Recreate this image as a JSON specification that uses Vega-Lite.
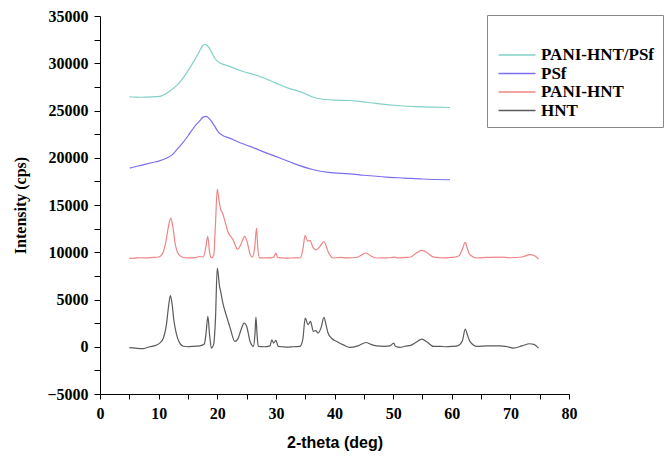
{
  "$schema": "https://vega.github.io/schema/vega-lite/v6.json",
  "width": 469,
  "height": 378,
  "autosize": "none",
  "padding": {"left": 100, "top": 16, "right": 101, "bottom": 64},
  "background": "white",
  "config": {"view": {"stroke": null}},
  "data": {"values": [
    {"s":"HNT","x":5.0,"y":-100},{"s":"HNT","x":6.0,"y":-150},{"s":"HNT","x":7.4,"y":-200},{"s":"HNT","x":8.5,"y":0},{"s":"HNT","x":9.5,"y":150},{"s":"HNT","x":10.2,"y":390},{"s":"HNT","x":10.8,"y":900},{"s":"HNT","x":11.3,"y":2200},{"s":"HNT","x":11.7,"y":4300},{"s":"HNT","x":12.0,"y":5400},{"s":"HNT","x":12.3,"y":4500},{"s":"HNT","x":12.6,"y":2800},{"s":"HNT","x":13.0,"y":1450},{"s":"HNT","x":13.5,"y":500},{"s":"HNT","x":14.2,"y":50},{"s":"HNT","x":15,"y":0},{"s":"HNT","x":16,"y":50},{"s":"HNT","x":17,"y":100},{"s":"HNT","x":17.8,"y":300},{"s":"HNT","x":18.1,"y":1500},{"s":"HNT","x":18.4,"y":3210},{"s":"HNT","x":18.7,"y":1200},{"s":"HNT","x":19.0,"y":-140},{"s":"HNT","x":19.4,"y":300},{"s":"HNT","x":19.7,"y":3000},{"s":"HNT","x":20.0,"y":8330},{"s":"HNT","x":20.2,"y":7500},{"s":"HNT","x":20.35,"y":6560},{"s":"HNT","x":20.6,"y":5800},{"s":"HNT","x":21.0,"y":4500},{"s":"HNT","x":21.6,"y":3200},{"s":"HNT","x":22.2,"y":2000},{"s":"HNT","x":23.0,"y":560},{"s":"HNT","x":23.5,"y":800},{"s":"HNT","x":24.0,"y":1700},{"s":"HNT","x":24.6,"y":2500},{"s":"HNT","x":25.0,"y":2200},{"s":"HNT","x":25.6,"y":560},{"s":"HNT","x":26.2,"y":30},{"s":"HNT","x":26.45,"y":1500},{"s":"HNT","x":26.6,"y":3140},{"s":"HNT","x":26.8,"y":1200},{"s":"HNT","x":27.0,"y":30},{"s":"HNT","x":28,"y":0},{"s":"HNT","x":29.0,"y":100},{"s":"HNT","x":29.3,"y":740},{"s":"HNT","x":29.6,"y":390},{"s":"HNT","x":30.0,"y":670},{"s":"HNT","x":30.4,"y":30},{"s":"HNT","x":31,"y":0},{"s":"HNT","x":32,"y":-50},{"s":"HNT","x":33,"y":0},{"s":"HNT","x":34.1,"y":30},{"s":"HNT","x":34.6,"y":800},{"s":"HNT","x":35.0,"y":3030},{"s":"HNT","x":35.5,"y":2330},{"s":"HNT","x":35.9,"y":2680},{"s":"HNT","x":36.4,"y":1620},{"s":"HNT","x":36.8,"y":1700},{"s":"HNT","x":37.2,"y":1450},{"s":"HNT","x":37.7,"y":2000},{"s":"HNT","x":38.2,"y":3100},{"s":"HNT","x":38.6,"y":2200},{"s":"HNT","x":38.9,"y":1450},{"s":"HNT","x":39.5,"y":900},{"s":"HNT","x":40.4,"y":560},{"s":"HNT","x":41.5,"y":200},{"s":"HNT","x":42.6,"y":-70},{"s":"HNT","x":44,"y":100},{"s":"HNT","x":45.4,"y":450},{"s":"HNT","x":46.2,"y":250},{"s":"HNT","x":47.2,"y":100},{"s":"HNT","x":48.5,"y":50},{"s":"HNT","x":49.5,"y":100},{"s":"HNT","x":50.1,"y":390},{"s":"HNT","x":50.4,"y":50},{"s":"HNT","x":51.2,"y":-70},{"s":"HNT","x":52,"y":50},{"s":"HNT","x":53,"y":150},{"s":"HNT","x":54,"y":500},{"s":"HNT","x":54.9,"y":810},{"s":"HNT","x":55.8,"y":500},{"s":"HNT","x":56.9,"y":30},{"s":"HNT","x":58,"y":50},{"s":"HNT","x":59,"y":0},{"s":"HNT","x":60,"y":30},{"s":"HNT","x":61,"y":100},{"s":"HNT","x":61.8,"y":600},{"s":"HNT","x":62.3,"y":1870},{"s":"HNT","x":62.7,"y":1200},{"s":"HNT","x":63.1,"y":560},{"s":"HNT","x":64.3,"y":30},{"s":"HNT","x":66,"y":100},{"s":"HNT","x":68.2,"y":100},{"s":"HNT","x":69.5,"y":0},{"s":"HNT","x":70.5,"y":-140},{"s":"HNT","x":72,"y":100},{"s":"HNT","x":73.3,"y":320},{"s":"HNT","x":74,"y":250},{"s":"HNT","x":74.8,"y":-140},
    {"s":"PANI-HNT","x":5.0,"y":9350},{"s":"PANI-HNT","x":6,"y":9380},{"s":"PANI-HNT","x":7,"y":9420},{"s":"PANI-HNT","x":8,"y":9400},{"s":"PANI-HNT","x":9,"y":9450},{"s":"PANI-HNT","x":10,"y":9500},{"s":"PANI-HNT","x":10.6,"y":9800},{"s":"PANI-HNT","x":11.2,"y":11000},{"s":"PANI-HNT","x":11.7,"y":12800},{"s":"PANI-HNT","x":12.06,"y":13620},{"s":"PANI-HNT","x":12.4,"y":12800},{"s":"PANI-HNT","x":12.8,"y":11000},{"s":"PANI-HNT","x":13.3,"y":9900},{"s":"PANI-HNT","x":14,"y":9500},{"s":"PANI-HNT","x":15,"y":9400},{"s":"PANI-HNT","x":16,"y":9400},{"s":"PANI-HNT","x":17,"y":9550},{"s":"PANI-HNT","x":17.6,"y":9500},{"s":"PANI-HNT","x":18.0,"y":10300},{"s":"PANI-HNT","x":18.37,"y":11670},{"s":"PANI-HNT","x":18.7,"y":10000},{"s":"PANI-HNT","x":19.0,"y":9400},{"s":"PANI-HNT","x":19.4,"y":9700},{"s":"PANI-HNT","x":19.7,"y":13000},{"s":"PANI-HNT","x":20.0,"y":16690},{"s":"PANI-HNT","x":20.3,"y":15500},{"s":"PANI-HNT","x":20.6,"y":14500},{"s":"PANI-HNT","x":20.9,"y":14150},{"s":"PANI-HNT","x":21.3,"y":13300},{"s":"PANI-HNT","x":21.8,"y":12200},{"s":"PANI-HNT","x":22.7,"y":11320},{"s":"PANI-HNT","x":23.5,"y":10300},{"s":"PANI-HNT","x":24.0,"y":10800},{"s":"PANI-HNT","x":24.7,"y":11670},{"s":"PANI-HNT","x":25.1,"y":11100},{"s":"PANI-HNT","x":25.6,"y":9800},{"s":"PANI-HNT","x":26.0,"y":9490},{"s":"PANI-HNT","x":26.4,"y":10600},{"s":"PANI-HNT","x":26.7,"y":12560},{"s":"PANI-HNT","x":26.9,"y":10600},{"s":"PANI-HNT","x":27.2,"y":9400},{"s":"PANI-HNT","x":28,"y":9400},{"s":"PANI-HNT","x":29,"y":9400},{"s":"PANI-HNT","x":29.6,"y":9450},{"s":"PANI-HNT","x":30.0,"y":9900},{"s":"PANI-HNT","x":30.3,"y":9450},{"s":"PANI-HNT","x":31,"y":9400},{"s":"PANI-HNT","x":32,"y":9380},{"s":"PANI-HNT","x":33,"y":9400},{"s":"PANI-HNT","x":34.2,"y":9420},{"s":"PANI-HNT","x":34.6,"y":10300},{"s":"PANI-HNT","x":35.0,"y":11780},{"s":"PANI-HNT","x":35.4,"y":11200},{"s":"PANI-HNT","x":35.8,"y":11220},{"s":"PANI-HNT","x":36.4,"y":10440},{"s":"PANI-HNT","x":36.9,"y":10260},{"s":"PANI-HNT","x":37.5,"y":10600},{"s":"PANI-HNT","x":38.2,"y":11140},{"s":"PANI-HNT","x":38.6,"y":10600},{"s":"PANI-HNT","x":38.9,"y":10080},{"s":"PANI-HNT","x":39.8,"y":9390},{"s":"PANI-HNT","x":41,"y":9450},{"s":"PANI-HNT","x":42,"y":9400},{"s":"PANI-HNT","x":43,"y":9420},{"s":"PANI-HNT","x":44,"y":9500},{"s":"PANI-HNT","x":45.4,"y":9920},{"s":"PANI-HNT","x":46.2,"y":9600},{"s":"PANI-HNT","x":47.2,"y":9390},{"s":"PANI-HNT","x":48.5,"y":9400},{"s":"PANI-HNT","x":49.5,"y":9420},{"s":"PANI-HNT","x":50.2,"y":9480},{"s":"PANI-HNT","x":51,"y":9400},{"s":"PANI-HNT","x":52,"y":9450},{"s":"PANI-HNT","x":53,"y":9500},{"s":"PANI-HNT","x":54,"y":9950},{"s":"PANI-HNT","x":54.9,"y":10190},{"s":"PANI-HNT","x":55.8,"y":9950},{"s":"PANI-HNT","x":56.9,"y":9490},{"s":"PANI-HNT","x":58,"y":9420},{"s":"PANI-HNT","x":59,"y":9400},{"s":"PANI-HNT","x":60,"y":9450},{"s":"PANI-HNT","x":61.2,"y":9600},{"s":"PANI-HNT","x":61.8,"y":10300},{"s":"PANI-HNT","x":62.3,"y":11040},{"s":"PANI-HNT","x":62.7,"y":10300},{"s":"PANI-HNT","x":63.1,"y":9740},{"s":"PANI-HNT","x":64.3,"y":9390},{"s":"PANI-HNT","x":66,"y":9450},{"s":"PANI-HNT","x":68.2,"y":9490},{"s":"PANI-HNT","x":70,"y":9420},{"s":"PANI-HNT","x":72,"y":9500},{"s":"PANI-HNT","x":73.3,"y":9740},{"s":"PANI-HNT","x":74.2,"y":9600},{"s":"PANI-HNT","x":74.8,"y":9280},
    {"s":"PSf","x":5.1,"y":18900},{"s":"PSf","x":6,"y":19050},{"s":"PSf","x":7,"y":19200},{"s":"PSf","x":8,"y":19350},{"s":"PSf","x":9,"y":19500},{"s":"PSf","x":10,"y":19650},{"s":"PSf","x":11.4,"y":19970},{"s":"PSf","x":12.3,"y":20300},{"s":"PSf","x":13.1,"y":20850},{"s":"PSf","x":14,"y":21500},{"s":"PSf","x":15,"y":22300},{"s":"PSf","x":16,"y":23200},{"s":"PSf","x":17,"y":23900},{"s":"PSf","x":17.6,"y":24300},{"s":"PSf","x":18.1,"y":24370},{"s":"PSf","x":18.7,"y":24100},{"s":"PSf","x":19.5,"y":23400},{"s":"PSf","x":20.2,"y":22700},{"s":"PSf","x":21.0,"y":22330},{"s":"PSf","x":22,"y":22100},{"s":"PSf","x":23.5,"y":21700},{"s":"PSf","x":25.6,"y":21200},{"s":"PSf","x":28,"y":20600},{"s":"PSf","x":30.7,"y":19970},{"s":"PSf","x":33,"y":19400},{"s":"PSf","x":36.4,"y":18730},{"s":"PSf","x":39,"y":18450},{"s":"PSf","x":42.6,"y":18300},{"s":"PSf","x":45,"y":18150},{"s":"PSf","x":48.9,"y":17950},{"s":"PSf","x":52,"y":17850},{"s":"PSf","x":55,"y":17750},{"s":"PSf","x":59.7,"y":17670},
    {"s":"PANI-HNT/PSf","x":5.0,"y":26455},{"s":"PANI-HNT/PSf","x":6,"y":26420},{"s":"PANI-HNT/PSf","x":7,"y":26400},{"s":"PANI-HNT/PSf","x":8,"y":26420},{"s":"PANI-HNT/PSf","x":9,"y":26450},{"s":"PANI-HNT/PSf","x":10.2,"y":26500},{"s":"PANI-HNT/PSf","x":11,"y":26700},{"s":"PANI-HNT/PSf","x":12,"y":27100},{"s":"PANI-HNT/PSf","x":13,"y":27600},{"s":"PANI-HNT/PSf","x":14,"y":28300},{"s":"PANI-HNT/PSf","x":15,"y":29200},{"s":"PANI-HNT/PSf","x":16,"y":30200},{"s":"PANI-HNT/PSf","x":17,"y":31300},{"s":"PANI-HNT/PSf","x":17.5,"y":31850},{"s":"PANI-HNT/PSf","x":17.9,"y":31990},{"s":"PANI-HNT/PSf","x":18.4,"y":31800},{"s":"PANI-HNT/PSf","x":19,"y":31200},{"s":"PANI-HNT/PSf","x":19.6,"y":30500},{"s":"PANI-HNT/PSf","x":20.5,"y":30020},{"s":"PANI-HNT/PSf","x":22,"y":29700},{"s":"PANI-HNT/PSf","x":24,"y":29200},{"s":"PANI-HNT/PSf","x":27.3,"y":28600},{"s":"PANI-HNT/PSf","x":30,"y":27900},{"s":"PANI-HNT/PSf","x":32,"y":27400},{"s":"PANI-HNT/PSf","x":34.1,"y":27000},{"s":"PANI-HNT/PSf","x":37,"y":26300},{"s":"PANI-HNT/PSf","x":40,"y":26100},{"s":"PANI-HNT/PSf","x":42.6,"y":26060},{"s":"PANI-HNT/PSf","x":44.3,"y":25960},{"s":"PANI-HNT/PSf","x":47,"y":25750},{"s":"PANI-HNT/PSf","x":50.6,"y":25530},{"s":"PANI-HNT/PSf","x":54,"y":25400},{"s":"PANI-HNT/PSf","x":57,"y":25350},{"s":"PANI-HNT/PSf","x":59.7,"y":25320}
  ]},
  "mark": {"type": "line", "strokeWidth": 1.2, "interpolate": "monotone"},
  "encoding": {
    "x": {
      "field": "x", "type": "quantitative",
      "scale": {"domain": [0, 80], "nice": false, "zero": false},
      "axis": {
        "title": "2-theta (deg)",
        "values": [0,5,10,15,20,25,30,35,40,45,50,55,60,65,70,75,80],
        "labelExpr": "datum.value % 10 === 0 ? datum.label : ''",
        "format": "d",
        "grid": false, "domainColor": "#000", "tickColor": "#000",
        "tickSize": 5, "labelPadding": 6,
        "labelFont": "Liberation Serif", "labelFontWeight": "bold", "labelFontSize": 16, "labelColor": "#000",
        "titleFont": "Liberation Sans", "titleFontWeight": "bold", "titleFontSize": 16, "titleColor": "#000",
        "titlePadding": 13, "labelFlush": false
      }
    },
    "y": {
      "field": "y", "type": "quantitative",
      "scale": {"domain": [-5000, 35000], "nice": false, "zero": false},
      "axis": {
        "title": "Intensity (cps)",
        "values": [-5000,-2500,0,2500,5000,7500,10000,12500,15000,17500,20000,22500,25000,27500,30000,32500,35000],
        "labelExpr": "datum.value % 5000 === 0 ? datum.label : ''",
        "format": "d",
        "grid": false, "domainColor": "#000", "tickColor": "#000",
        "tickSize": 6, "labelPadding": 6,
        "labelFont": "Liberation Serif", "labelFontWeight": "bold", "labelFontSize": 16, "labelColor": "#000",
        "titleFont": "Liberation Serif", "titleFontWeight": "bold", "titleFontSize": 16, "titleColor": "#000",
        "titlePadding": 18, "labelFlush": false
      }
    },
    "color": {
      "field": "s", "type": "nominal",
      "scale": {"domain": ["PANI-HNT/PSf", "PSf", "PANI-HNT", "HNT"], "range": ["#82d0c8", "#7b70f0", "#f08484", "#5a5a5a"]},
      "legend": {
        "orient": "none", "legendX": 387, "legendY": -1,
        "title": " ", "titleFontSize": 8, "titlePadding": 14,
        "symbolType": "M-2,0H2", "symbolSize": 342, "symbolStrokeWidth": 1.5, "symbolOffset": 12,
        "labelFont": "Liberation Serif", "labelFontWeight": "bold", "labelFontSize": 17, "labelColor": "#000",
        "labelOffset": 14, "rowPadding": 0.5,
        "fillColor": "white", "strokeColor": "#888", "padding": 8
      }
    }
  }
}
